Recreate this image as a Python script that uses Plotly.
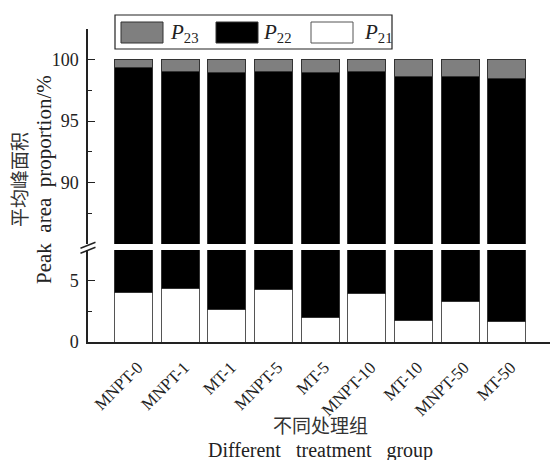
import plotly.graph_objects as go

# Treatment groups and peak-area proportions (%) of the three T2 components
groups = ["MNPT-0", "MNPT-1", "MT-1", "MNPT-5", "MT-5",
          "MNPT-10", "MT-10", "MNPT-50", "MT-50"]
p21 = [4.05, 4.34, 2.68, 4.26, 2.02, 3.99, 1.75, 3.30, 1.67]
p22 = [95.35, 94.74, 96.29, 94.76, 96.95, 95.03, 96.90, 95.35, 96.79]
p23 = [0.60, 0.92, 1.03, 0.98, 1.03, 0.98, 1.35, 1.35, 1.54]

series_names = ["P21", "P22", "P23"]
series_labels = ["<i>P</i><sub>21</sub>", "<i>P</i><sub>22</sub>", "<i>P</i><sub>23</sub>"]
series_values = [p21, p22, p23]
series_fill = ["#ffffff", "#000000", "#7f7f7f"]
series_edge = ["#555555", "#333333", "#333333"]

SERIF = "Liberation Serif"
CJK = "Noto Sans CJK SC"

W, H = 550, 460
ML, MR, MT, MB = 88, 0, 29, 118
PW, PH = W - ML - MR, H - MT - MB


def px(x):
    return (x - ML) / PW


def py(y):
    return (H - MB - y) / PH


fig = go.Figure()

# The same stack is drawn in the lower (0-7.5) and upper (85-102.5) panels
for yref in ["y", "y2"]:
    for name, vals, fill, edge in zip(series_names, series_values, series_fill, series_edge):
        fig.add_trace(go.Bar(
            x=groups, y=vals, name=name, xaxis="x", yaxis=yref,
            marker=dict(color=fill, line=dict(color=edge, width=1)),
            showlegend=False,
        ))

axis_common = dict(
    showline=True, linecolor="#222222", linewidth=1.5,
    ticks="inside", ticklen=7, tickwidth=1.2, tickcolor="#222222",
    showgrid=False, zeroline=False,
    tickfont=dict(family=SERIF, size=18, color="#222222"),
    ticklabelstandoff=4,
)

fig.update_layout(
    width=W, height=H,
    margin=dict(l=ML, r=MR, t=MT, b=MB),
    paper_bgcolor="white", plot_bgcolor="white",
    barmode="stack", bargap=0.185,
    showlegend=False,
    xaxis=dict(
        domain=[0, 1], anchor="y", range=[-0.98, 8.93],
        showline=True, linecolor="#222222", linewidth=1.5,
        ticks="", showgrid=False, zeroline=False,
        tickangle=-45, ticklabelstandoff=7, ticklabelshift=4,
        tickfont=dict(family=SERIF, size=17, color="#222222"),
    ),
    yaxis=dict(
        domain=[0, py(250)], anchor="x", range=[0, 7.5],
        tickmode="array", tickvals=[0, 5],
        minor=dict(tickmode="array", tickvals=[2.5], ticks="inside",
                   ticklen=4, tickcolor="#222222"),
        **axis_common,
    ),
    yaxis2=dict(
        domain=[py(244), 1], anchor="x", range=[85, 102.5],
        tickmode="array", tickvals=[90, 95, 100],
        minor=dict(tickmode="array", tickvals=[87.5, 92.5, 97.5, 102.5],
                   ticks="inside", ticklen=4, tickcolor="#222222"),
        **axis_common,
    ),
)

shapes = []
# axis break marks
for dy in (0, 5):
    shapes.append(dict(type="line", xref="paper", yref="paper",
                       x0=px(80.5), y0=py(248.3 + dy), x1=px(95.5), y1=py(242.3 + dy),
                       line=dict(color="#222222", width=1.5)))

# legend frame and swatches
shapes.append(dict(type="rect", xref="paper", yref="paper",
                   x0=px(115), y0=py(49), x1=px(392), y1=py(15),
                   line=dict(color="#222222", width=1.2), fillcolor="white"))
legend_order = [2, 1, 0]
swatch_x = [121, 216, 311]
label_x = [168, 261, 362]
annotations = []
for k, idx in enumerate(legend_order):
    shapes.append(dict(type="rect", xref="paper", yref="paper",
                       x0=px(swatch_x[k]), y0=py(43), x1=px(swatch_x[k] + 42), y1=py(22),
                       line=dict(color=series_edge[idx], width=1),
                       fillcolor=series_fill[idx]))
    annotations.append(dict(xref="paper", yref="paper", x=px(label_x[k]), y=py(33),
                            xanchor="left", yanchor="middle", showarrow=False,
                            text=series_labels[idx],
                            font=dict(family=SERIF, size=21, color="#222222")))

nb = "\u00a0"
annotations += [
    dict(xref="paper", yref="paper", x=px(320), y=py(424), showarrow=False,
         xanchor="center", yanchor="middle", text="不同处理组",
         font=dict(family=CJK, size=19, color="#333333")),
    dict(xref="paper", yref="paper", x=px(320), y=py(450), showarrow=False,
         xanchor="center", yanchor="middle",
         text=f"Different{nb}{nb}{nb}treatment{nb}{nb}{nb}group",
         font=dict(family=SERIF, size=20, color="#222222")),
    dict(xref="paper", yref="paper", x=px(18), y=py(180), showarrow=False,
         xanchor="center", yanchor="middle", textangle=-90, text="平均峰面积",
         font=dict(family=CJK, size=19, color="#333333")),
    dict(xref="paper", yref="paper", x=px(44), y=py(180), showarrow=False,
         xanchor="center", yanchor="middle", textangle=-90,
         text=f"Peak{nb}{nb}area{nb}{nb}proportion/%",
         font=dict(family=SERIF, size=21, color="#222222")),
]

fig.update_layout(shapes=shapes, annotations=annotations)
fig.write_html("out.html")
